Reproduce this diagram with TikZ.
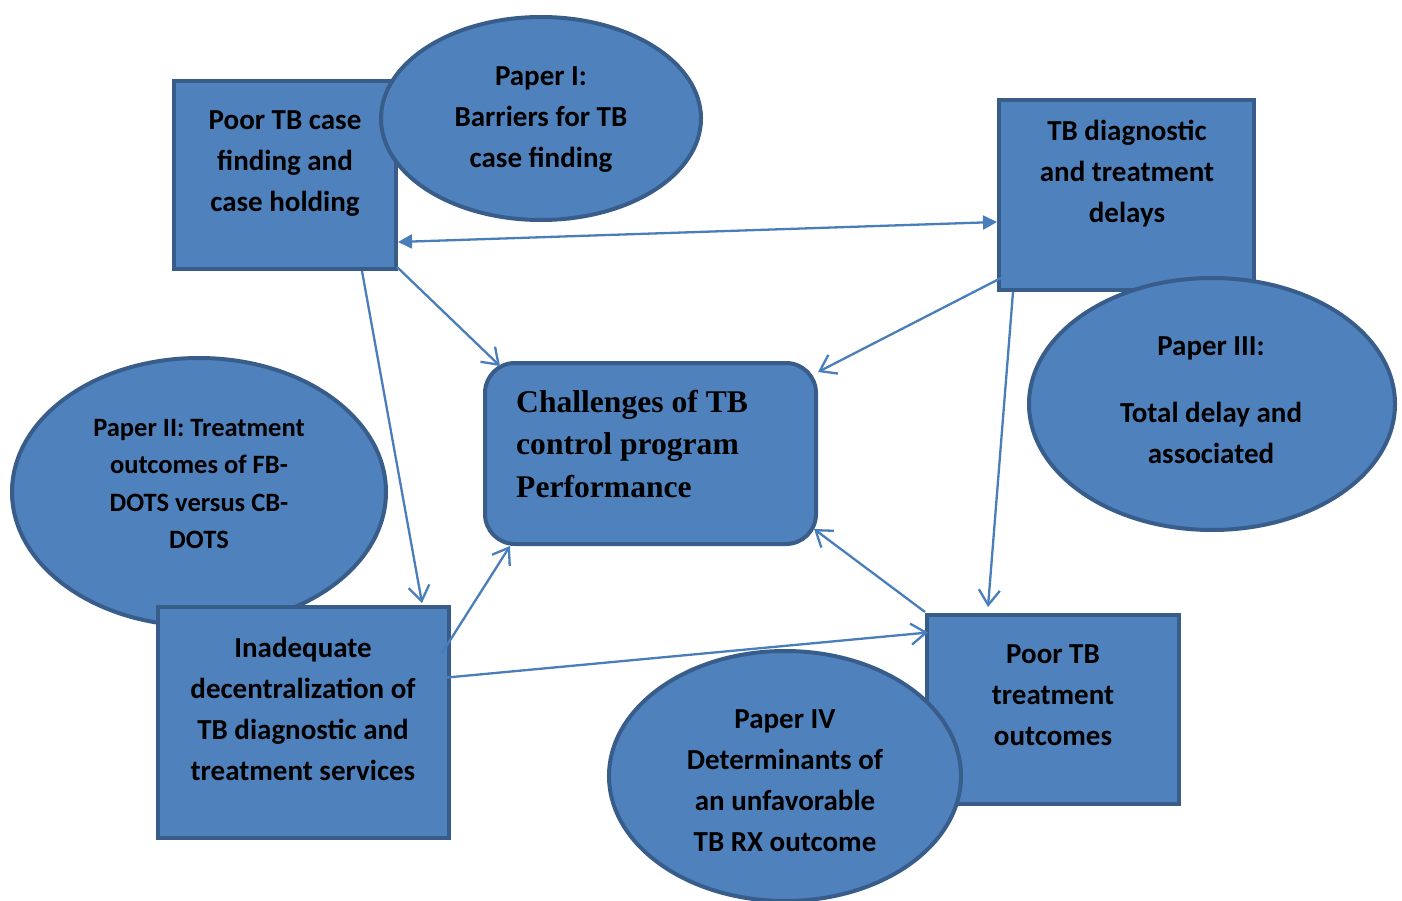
\documentclass[tikz,border=0pt]{standalone}
\usepackage{fontspec}
\newfontfamily\calfont{Carlito}
\newfontfamily\timesfont{Liberation Serif}
\usetikzlibrary{shapes.geometric,arrows.meta}
\definecolor{fillc}{HTML}{4F81BD}
\definecolor{bordc}{HTML}{385D8A}
\definecolor{linec}{HTML}{4A7EBB}
\begin{document}
\begin{tikzpicture}[x=1pt,y=-1pt,
  sq/.style={draw=bordc,fill=fillc,line width=4pt,rectangle,inner sep=0pt},
  ell/.style={draw=bordc,fill=fillc,line width=4pt,ellipse,inner sep=0pt},
  txt/.style={align=center,font=\calfont\bfseries\fontsize{29}{41}\selectfont,inner sep=0pt},
  smalltxt/.style={align=center,font=\calfont\bfseries\fontsize{26.5}{37.3}\selectfont,inner sep=0pt},
  conn/.style={draw=linec,line width=2.3pt,-{Straight Barb[length=15pt,width=21pt]}},
  dconn/.style={draw=linec,line width=2.3pt,{Triangle[length=14pt,width=14pt]}-{Triangle[length=14pt,width=14pt]}}
]
\useasboundingbox (0,0) rectangle (1402,901);

% shapes
\node[sq,minimum width=222pt,minimum height=188pt] (A) at (285,175) {};
\node[ell,minimum width=320pt,minimum height=203pt] (P1) at (541,118.5) {};
\node[sq,minimum width=255pt,minimum height=190pt] (B) at (1126.5,195) {};
\node[ell,minimum width=366pt,minimum height=252pt] (P3) at (1212,404) {};
\node[ell,minimum width=374pt,minimum height=268pt] (P2) at (199,492) {};
\node[sq,minimum width=291pt,minimum height=231pt] (C) at (303.5,722.5) {};
\node[sq,minimum width=252pt,minimum height=189pt] (D) at (1053,709.5) {};
\node[ell,minimum width=352pt,minimum height=250pt] (P4) at (785,776) {};
\node[sq,rounded corners=30pt,minimum width=331pt,minimum height=181pt] (M) at (650.5,453.5) {};

% texts
\node[txt] (At) at (285,164) {Poor TB case\\finding and\\case holding};
\node[txt] (P1t) at (541,120) {Paper I:\\Barriers for TB\\case finding};
\node[txt] (Bt) at (1127,174) {TB diagnostic\\and treatment\\delays};
\node[txt] (P3t) at (1211,400) {Paper III:\\[26pt]Total delay and\\associated};
\node[smalltxt] (P2t) at (199,484) {Paper II: Treatment\\outcomes of FB-\\DOTS versus CB-\\DOTS};
\node[txt] (Ct) at (303,709) {Inadequate\\decentralization of\\TB diagnostic and\\treatment services};
\node[txt] (Dt) at (1053,695) {Poor TB\\treatment\\outcomes};
\node[txt] (P4t) at (785,781) {Paper IV\\Determinants of\\an unfavorable\\TB RX outcome};
\node[align=left,anchor=west,inner sep=0pt,font=\timesfont\bfseries\fontsize{31.6}{42.5}\selectfont] (Mt) at (516,444) {Challenges of TB\\control program\\Performance};

% connectors
\draw[dconn] ([yshift=-67pt]A.east) -- ([yshift=-27pt]B.west);
\draw[conn] ([xshift=-1pt,yshift=4pt]A.south east) -- ([xshift=17pt,yshift=-5pt]M.north west);
\draw[conn] ([xshift=77pt]A.south) -- ([xshift=118.5pt,yshift=2pt]C.north);
\draw[conn] ([xshift=4pt,yshift=-83pt]B.west) -- ([yshift=-11pt]M.north east);
\draw[conn] ([xshift=-113.5pt]B.south) -- ([xshift=-65pt,yshift=6pt]D.north);
\draw[conn] ([xshift=-9pt,yshift=-48pt]C.north east) -- ([xshift=27pt]M.south west);
\draw[conn] ([xshift=-4pt,yshift=45pt]C.east) -- ([xshift=3pt,yshift=77pt]D.west);
\draw[conn] ([yshift=1pt]D.north west) -- ([xshift=-4pt,yshift=17pt]M.south east);
\end{tikzpicture}
\end{document}
